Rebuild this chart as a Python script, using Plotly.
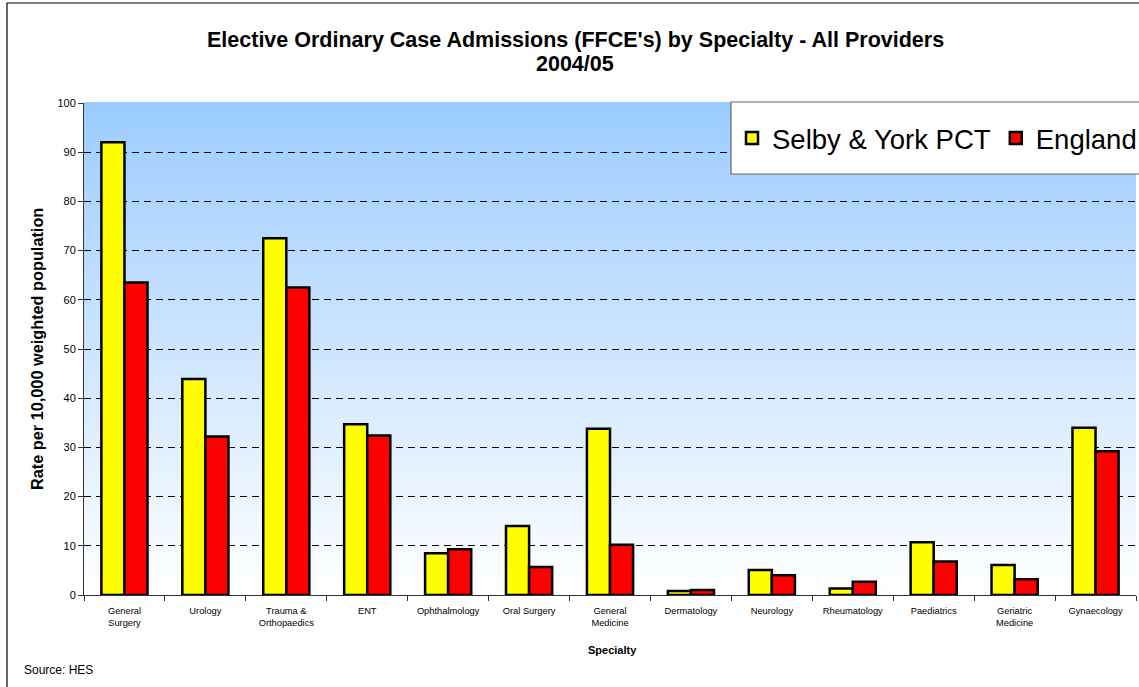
import plotly.graph_objects as go

categories = ["General<br>Surgery", "Urology", "Trauma &<br>Orthopaedics", "ENT",
              "Ophthalmology", "Oral Surgery", "General<br>Medicine", "Dermatology",
              "Neurology", "Rheumatology", "Paediatrics", "Geriatric<br>Medicine",
              "Gynaecology"]
selby_york = [92.0, 43.9, 72.5, 34.7, 8.5, 14.0, 33.8, 0.8, 5.1, 1.3, 10.7, 6.1, 34.0]
england = [63.5, 32.2, 62.5, 32.4, 9.3, 5.7, 10.2, 1.0, 4.0, 2.7, 6.8, 3.2, 29.2]
y_ticks = [0, 10, 20, 30, 40, 50, 60, 70, 80, 90, 100]

W, H = 1139, 687
PLOT_L, PLOT_R, PLOT_T, PLOT_B = 84, 1136, 103, 595   # page pixel targets
L, T = PLOT_L, PLOT_T
R, B = W - PLOT_R, H - PLOT_B
PW, PH = PLOT_R - PLOT_L, PLOT_B - PLOT_T

def px_x(p):
    return (p - PLOT_L) / PW

def px_y(p):
    return (PLOT_B - p) / PH

FONT = "Liberation Sans, Arial, sans-serif"

fig = go.Figure()
fig.add_trace(go.Bar(name="Selby & York PCT", x=categories, y=selby_york,
                     marker=dict(color="#FFFF00", line=dict(color="black", width=2.5))))
fig.add_trace(go.Bar(name="England", x=categories, y=england,
                     marker=dict(color="#FF0000", line=dict(color="black", width=2.5))))

shapes = []
# vertical gradient background (light blue at top to white at bottom)
n = 160
top_rgb = (155, 204, 255)
for i in range(n):
    f = (i + 0.5) / n
    r = round(255 + (top_rgb[0] - 255) * f)
    g = round(255 + (top_rgb[1] - 255) * f)
    b = round(255 + (top_rgb[2] - 255) * f)
    shapes.append(dict(type="rect", xref="paper", yref="paper", x0=0, x1=1,
                       y0=i / n, y1=(i + 1) / n + 0.002, layer="below",
                       fillcolor=f"rgb({r},{g},{b})", line=dict(width=0)))
# outer chart border
shapes.append(dict(type="rect", xref="paper", yref="paper",
                   x0=px_x(7), x1=px_x(1160), y0=px_y(700), y1=px_y(3),
                   layer="above", fillcolor="rgba(0,0,0,0)",
                   line=dict(color="black", width=1.2)))
# legend box
shapes.append(dict(type="rect", xref="paper", yref="paper",
                   x0=px_x(731), x1=px_x(1170), y0=px_y(174), y1=px_y(102),
                   layer="above", fillcolor="white",
                   line=dict(color="#666666", width=1.2)))

annotations = [
    dict(text="<b>Elective Ordinary Case Admissions (FFCE's) by Specialty - All Providers</b>",
         xref="paper", yref="paper", x=px_x(575), y=px_y(40), xanchor="center", yanchor="middle",
         showarrow=False, font=dict(family=FONT, size=21.5, color="black")),
    dict(text="<b>2004/05</b>",
         xref="paper", yref="paper", x=px_x(575), y=px_y(64), xanchor="center", yanchor="middle",
         showarrow=False, font=dict(family=FONT, size=21.5, color="black")),
    dict(text="<b>Rate per 10,000 weighted population</b>", xref="paper", yref="paper",
         x=px_x(37), y=0.5, textangle=-90, xanchor="center", yanchor="middle",
         showarrow=False, font=dict(family=FONT, size=16.3, color="black")),
    dict(text="<b>Specialty</b>", xref="paper", yref="paper", x=px_x(612), y=px_y(650),
         xanchor="center", yanchor="middle", showarrow=False,
         font=dict(family=FONT, size=11, color="black")),
    dict(text="Source: HES", xref="paper", yref="paper", x=px_x(22), y=px_y(670),
         xanchor="left", yanchor="middle", showarrow=False,
         font=dict(family=FONT, size=12, color="black")),
]

fig.update_layout(
    width=W, height=H,
    margin=dict(l=L, r=R, t=T, b=B, autoexpand=False),
    paper_bgcolor="white", plot_bgcolor="rgba(0,0,0,0)",
    barmode="group", bargap=0.43, bargroupgap=0.0,
    font=dict(family=FONT, color="black"),
    shapes=shapes, annotations=annotations,
    legend=dict(orientation="h", x=px_x(732), y=px_y(138), xanchor="left", yanchor="middle",
                bgcolor="rgba(0,0,0,0)", borderwidth=0,
                font=dict(family=FONT, size=27.5, color="black")),
    xaxis=dict(showline=True, linecolor="#333333", linewidth=1, ticks="outside",
               tickson="boundaries", ticklen=5, tickcolor="#333333", ticklabelstandoff=7,
               tickfont=dict(family=FONT, size=9.3, color="black"), showgrid=False),
    yaxis=dict(range=[0, 100], tickvals=y_ticks, showline=True, linecolor="#333333",
               linewidth=1, ticks="outside", ticklen=5, tickcolor="#333333",
               tickfont=dict(family=FONT, size=11, color="black"),
               showgrid=True, gridcolor="black", gridwidth=1, griddash="7px,5px",
               zeroline=False),
)

fig.write_html("out.html", config={"displayModeBar": False},
               post_script="document.body.style.margin='0';document.body.style.padding='0';"
                           "document.body.style.overflow='hidden';")
